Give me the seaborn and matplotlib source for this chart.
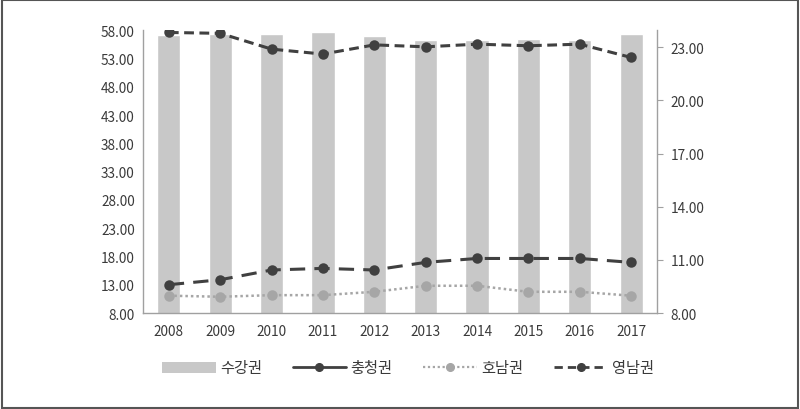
import matplotlib
matplotlib.use('Agg')
import matplotlib.pyplot as plt
import seaborn as sns
import pandas as pd
from matplotlib.patches import Patch
from matplotlib.lines import Line2D

# Data
years = ['2008', '2009', '2010', '2011', '2012', '2013', '2014', '2015', '2016', '2017']
sudogwon = [57.2, 57.3, 57.4, 57.6, 56.9, 56.3, 56.3, 56.4, 56.3, 57.4]
chungcheong = [9.60, 9.88, 10.43, 10.52, 10.43, 10.86, 11.08, 11.08, 11.08, 10.86]
honam = [8.98, 8.92, 9.01, 9.01, 9.20, 9.54, 9.54, 9.20, 9.20, 8.98]
yeongnam = [23.83, 23.78, 22.89, 22.61, 23.13, 23.02, 23.17, 23.08, 23.17, 22.42]

left_ticks = [8, 13, 18, 23, 28, 33, 38, 43, 48, 53, 58]
right_ticks = [8, 11, 14, 17, 20, 23]

df = pd.DataFrame({'year': years, '수강권': sudogwon, '충청권': chungcheong,
                   '호남권': honam, '영남권': yeongnam})

sns.set_style('white')
plt.rcParams['font.family'] = ['Noto Sans CJK KR', 'DejaVu Sans']

bar_color = '#c8c8c8'
dark = '#404040'
light = '#a6a6a6'
axis_color = '#a0a0a0'
text_color = '#3a3a3a'

fig = plt.figure(figsize=(8, 4.1), dpi=100)
ax = fig.add_axes([0.179, 0.234, 0.642, 0.69])

sns.barplot(data=df, x='year', y='수강권', color=bar_color, width=0.45,
            saturation=1, ax=ax)
ax.set_ylim(8, 58)
ax.set_yticks(left_ticks)
ax.set_yticklabels([f'{t:.2f}' for t in left_ticks])
ax.set_xlabel('')
ax.set_ylabel('')

ax2 = ax.twinx()
# line series on the secondary axis: (column, colour, dash pattern, width)
line_styles = [('충청권', dark, (0, (5, 3)), 2.2),
               ('호남권', light, (0, (1, 1.2)), 1.8),
               ('영남권', dark, (0, (3.2, 1.8)), 2.2)]
for col, c, ls, lw in line_styles:
    sns.pointplot(data=df, x='year', y=col, color=c, errorbar=None,
                  markers='o', markersize=5.5, ax=ax2)
    ln = ax2.lines[-1]
    ln.set_linestyle(ls)
    ln.set_linewidth(lw)
    ln.set_markersize(5.5)

ax2.set_ylim(8, 23.96)
ax2.set_yticks(right_ticks)
ax2.set_yticklabels([f'{t:.2f}' for t in right_ticks])
ax2.set_ylabel('')
ax2.set_xlim(-0.5, 9.5)
ax.set_xlim(-0.5, 9.5)

for a in (ax, ax2):
    a.spines['top'].set_visible(False)
    for side in ('left', 'right', 'bottom'):
        a.spines[side].set_color(axis_color)
        a.spines[side].set_linewidth(1)
    a.tick_params(labelsize=9.8, colors=text_color, pad=6)

ax2.spines['left'].set_visible(False)
ax.spines['right'].set_visible(False)
ax2.spines['bottom'].set_visible(False)
ax.tick_params(axis='y', length=0)
ax.tick_params(axis='x', length=0, pad=8)
ax2.tick_params(axis='y', length=4, color=axis_color, direction='out')
ax.grid(False)
ax2.grid(False)

handles = [
    Patch(facecolor=bar_color, edgecolor='none'),
    Line2D([0], [0], color=dark, lw=2, marker='o', markersize=5.5),
    Line2D([0], [0], color=light, lw=1.6, ls=(0, (1, 1.2)), marker='o', markersize=5.5),
    Line2D([0], [0], color=dark, lw=2, ls=(0, (3, 1.8)), marker='o', markersize=5.5),
]
labels = ['수강권', '충청권', '호남권', '영남권']
fig.legend(handles, labels, loc='center', bbox_to_anchor=(0.51, 0.1), ncol=4,
           frameon=False, fontsize=11, handlelength=3.5, columnspacing=2.0,
           handletextpad=0.3, labelcolor=text_color)

# outer frame like the reference screenshot
fig.patches.append(plt.Rectangle((0.002, 0.003), 0.996, 0.994, transform=fig.transFigure,
                                 fill=False, edgecolor='#555555', linewidth=1.5))

fig.savefig('out.png', dpi=100)
